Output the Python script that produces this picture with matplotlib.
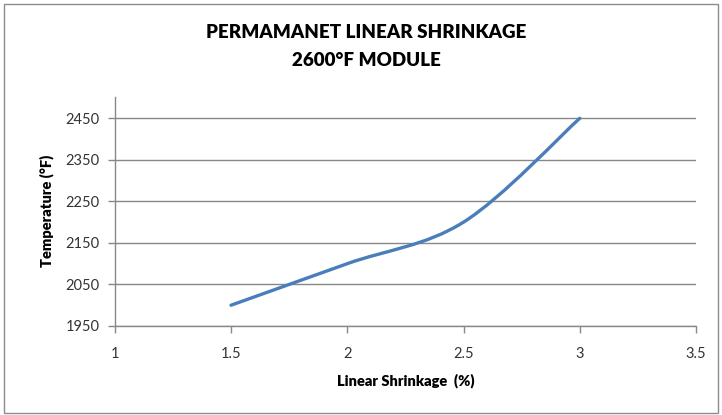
import numpy as np
import matplotlib
matplotlib.use("Agg")
import matplotlib.pyplot as plt
from matplotlib.path import Path
from matplotlib.patches import PathPatch, Rectangle

plt.rcParams["font.family"] = ["Lato", "DejaVu Sans"]

# data
shrinkage = [1.5, 2.0, 2.5, 3.0]
temperature = [2000, 2100, 2200, 2450]
x_ticks = [1, 1.5, 2, 2.5, 3, 3.5]
x_ticklabels = ["1", "1.5", "2", "2.5", "3", "3.5"]
y_ticks = [1950, 2050, 2150, 2250, 2350, 2450]

LINE = "#4a7ebb"
GRID = "#888888"


def smooth_path(xs, ys):
    # spreadsheet-style smoothed line: Catmull-Rom as cubic Bezier segments
    pts = np.column_stack([xs, ys]).astype(float)
    ext = np.vstack([pts[0], pts, pts[-1]])
    verts = [tuple(pts[0])]
    codes = [Path.MOVETO]
    for i in range(len(pts) - 1):
        p0, p1, p2, p3 = ext[i], ext[i + 1], ext[i + 2], ext[i + 3]
        c1 = p1 + (p2 - p0) / 6
        c2 = p2 - (p3 - p1) / 6
        verts += [tuple(c1), tuple(c2), tuple(p2)]
        codes += [Path.CURVE4] * 3
    return Path(verts, codes)


fig = plt.figure(figsize=(7.22, 4.15), dpi=100)
fig.patches.append(Rectangle((0.006, 0.006), 0.988, 0.985, transform=fig.transFigure,
                             fill=False, ec="#8c8c8c", lw=1.0))
ax = fig.add_axes([0.159, 0.2145, 0.805, 0.5525])

ax.add_patch(PathPatch(smooth_path(shrinkage, temperature), fill=False,
                       ec=LINE, lw=2.4, capstyle="round", zorder=3))

ax.set_xlim(1, 3.5)
ax.set_ylim(1950, 2502)
ax.set_xticks(x_ticks)
ax.set_xticklabels(x_ticklabels)
ax.set_yticks(y_ticks)
ax.yaxis.grid(True, color=GRID, lw=1.0)
ax.set_axisbelow(True)
for s in ["top", "right"]:
    ax.spines[s].set_visible(False)
for s in ["left", "bottom"]:
    ax.spines[s].set_color(GRID)
    ax.spines[s].set_linewidth(1.0)
ax.tick_params(axis="both", direction="out", length=5, width=1, color=GRID,
               labelsize=10.5, labelcolor="#333333")
ax.tick_params(axis="x", pad=10)
ax.tick_params(axis="y", pad=6)

ax.set_xlabel("Linear Shrinkage  (%)", fontsize=10.5, fontweight="heavy", labelpad=9)
ax.set_ylabel("Temperature (°F)", fontsize=10.5, fontweight="heavy", labelpad=8)

fig.text(0.507, 0.922, "PERMAMANET LINEAR SHRINKAGE", ha="center", va="center",
         fontsize=13.5, fontweight="heavy")
fig.text(0.507, 0.855, "2600°F MODULE", ha="center", va="center",
         fontsize=13.5, fontweight="heavy")

fig.savefig("out.png", dpi=100)
